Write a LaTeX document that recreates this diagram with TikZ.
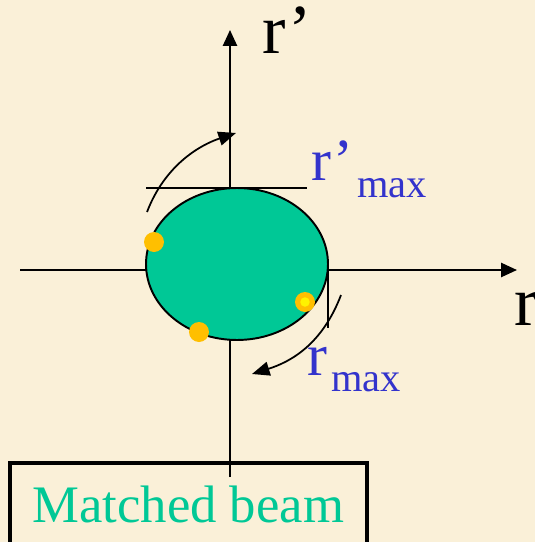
\documentclass[tikz,border=0pt]{standalone}
\usepackage{fontspec}
\setmainfont{Liberation Serif}
\usetikzlibrary{arrows.meta,shapes.geometric}
\definecolor{parch}{HTML}{FAF0D8}
\definecolor{beamgr}{HTML}{00C896}
\definecolor{dotor}{HTML}{FFBF00}
\definecolor{lblbl}{HTML}{3333CC}

\begin{document}
\begin{tikzpicture}[x=0.02cm,y=-0.02cm,
  ax/.style={-{Triangle[length=9pt,width=8pt]},line width=1.1pt},
  tg/.style={line width=1.1pt},
  sw/.style={-{Triangle[length=10pt,width=8pt]},line width=1pt},
  pt/.style={circle,fill=dotor,minimum size=0.4cm,inner sep=0pt},
  big/.style={font=\fontsize{40}{40}\selectfont,inner sep=0pt,anchor=base west},
  bl/.style={font=\fontsize{34}{34}\selectfont,text=lblbl,inner sep=0pt,anchor=base west},
  sub/.style={font=\fontsize{23}{23}\selectfont,text=lblbl,inner sep=0pt,anchor=base west}]
\fill[parch] (0,0) rectangle (535,542);
\useasboundingbox (0,0) rectangle (535,542);
% axes
\coordinate (yb) at (230,477);
\coordinate (yt) at (230,30);
\coordinate (xl) at (20,270);
\coordinate (xr) at (517,270);
\draw[ax] (yb) -- (yt);
\draw[ax] (xl) -- (xr);
% phase space ellipse
\node[ellipse,draw,line width=1.1pt,fill=beamgr,minimum width=3.64cm,
  minimum height=3.04cm,inner sep=0pt] (el) at (237,264) {};
% tangents
\coordinate (ta) at (146,188);
\coordinate (tb) at (307,188);
\coordinate (tc) at (328,263);
\coordinate (td) at (328,328);
\draw[tg] (ta) -- (tb);
\draw[tg] (tc) -- (td);
% rotation arrows
\coordinate (ua) at (147,212);
\coordinate (ub) at (236,133);
\coordinate (la) at (341,295);
\coordinate (lb) at (252,374);
\draw[sw] (ua) .. controls (165,165) and (200,145) .. (ub);
\draw[sw] (la) .. controls (322,345) and (290,362) .. (lb);
% particles
\node[pt] (p1) at (154,242) {};
\node[pt] (p2) at (199,332) {};
\node[pt] (p3) at (305,302) {};
\node[circle,fill=yellow,minimum size=0.19cm,inner sep=0pt] (p3c) at (p3) {};
% labels
\node[big] (rp) at (262,53) {r’};
\node[big] (rr) at (514,325) {r};
\node[bl] (rpm) at (311,180) {r’};
\node[sub] (rpms) at (357,197) {max};
\node[bl] (rm) at (307,375) {r};
\node[sub] (rms) at (331,391) {max};
% matched beam box
\draw[line width=2.3pt] (10,560) -- (10,463) -- (367,463) -- (367,560);
\node[font=\fontsize{30}{30}\selectfont,text=beamgr,inner sep=0pt,anchor=base west]
  (mb) at (32,522) {Matched beam};
\end{tikzpicture}
\end{document}
